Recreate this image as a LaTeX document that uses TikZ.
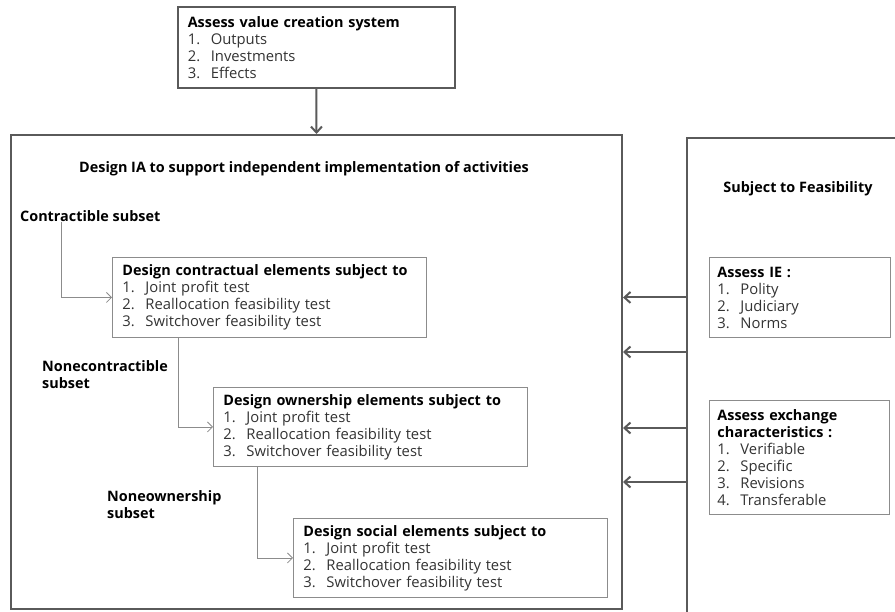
\documentclass[tikz,border=0pt]{standalone}
\usepackage{fontspec}
\setmainfont{Open Sans}
\usetikzlibrary{arrows.meta,calc}
\definecolor{frame}{HTML}{5A5A5A}
\definecolor{boxline}{HTML}{8C8C8C}
\definecolor{itemtxt}{HTML}{333333}
\newcommand\itm[2]{{\color{itemtxt}\fontsize{14.8}{17}\selectfont\makebox[23pt][l]{#1}#2}}
\tikzset{
  txt/.style={font=\fontsize{14.4}{17}\selectfont},
  btxt/.style={font=\fontsize{14.4}{17}\selectfont\bfseries},
  listbox/.style={txt, draw=boxline, line width=0.9pt, anchor=north west,
    align=left, inner xsep=0pt, inner ysep=0pt},
  lbl/.style={btxt, anchor=west, align=left, inner sep=0pt},
  bigframe/.style={draw=frame, line width=2pt, anchor=north west, inner sep=0pt},
  feed/.style={draw=frame, line width=2pt, -{Straight Barb[length=6pt,width=11pt,line width=2pt]}},
  lnk/.style={draw=boxline, line width=0.8pt, -{Straight Barb[length=5pt,width=10pt,line width=0.8pt]}},
}
\begin{document}
\begin{tikzpicture}[x=1pt,y=-1pt]
\useasboundingbox (0,0) rectangle (895,611);
\clip (0,0) rectangle (895,611);
\fill[white] (0,0) rectangle (895,611);

% outer frames
\node[bigframe, minimum width=611pt, minimum height=474pt] (ia) at (10,134) {};
\node[bigframe, minimum width=300pt, minimum height=520pt] (feas) at (686,137) {};

% value creation system
\node[listbox, draw=frame, line width=1.6pt, minimum width=277pt, minimum height=81pt, text width=267pt] (vcs) at (177,6)
  {\hspace*{5pt}\textbf{Assess value creation system}\\\hspace*{5pt}\itm{1.}{Outputs}\\\hspace*{5pt}\itm{2.}{Investments}\\\hspace*{5pt}\itm{3.}{Effects}};

\node[btxt] (iat) at (304,169) {Design IA to support independent implementation of activities};
\node[btxt] (sft) at (798,189) {Subject to Feasibility};

% design steps
\node[lbl] (cs) at (20,216) {Contractible subset};
\node[listbox, minimum width=314pt, minimum height=80pt, text width=304pt] (contr) at (112,257)
  {\hspace*{5pt}\textbf{Design contractual elements subject to}\\\hspace*{5pt}\itm{1.}{Joint profit test}\\\hspace*{5pt}\itm{2.}{Reallocation feasibility test}\\\hspace*{5pt}\itm{3.}{Switchover feasibility test}};

\node[lbl, anchor=north west] (ncs) at (42,360) {Nonecontractible\\subset};
\node[listbox, minimum width=314pt, minimum height=79pt, text width=304pt] (own) at (213,387)
  {\hspace*{5pt}\textbf{Design ownership elements subject to}\\\hspace*{5pt}\itm{1.}{Joint profit test}\\\hspace*{5pt}\itm{2.}{Reallocation feasibility test}\\\hspace*{5pt}\itm{3.}{Switchover feasibility test}};

\node[lbl, anchor=north west] (nos) at (107,490) {Noneownership\\subset};
\node[listbox, minimum width=314pt, minimum height=79pt, text width=304pt] (soc) at (293,518)
  {\hspace*{5pt}\textbf{Design social elements subject to}\\\hspace*{5pt}\itm{1.}{Joint profit test}\\\hspace*{5pt}\itm{2.}{Reallocation feasibility test}\\\hspace*{5pt}\itm{3.}{Switchover feasibility test}};

% feasibility assessments
\node[listbox, minimum width=181pt, minimum height=80pt, text width=171pt] (ie) at (709,257)
  {\hspace*{3pt}\textbf{Assess IE :}\\\hspace*{3pt}\itm{1.}{Polity}\\\hspace*{3pt}\itm{2.}{Judiciary}\\\hspace*{3pt}\itm{3.}{Norms}};
\node[listbox, minimum width=180pt, minimum height=114pt, text width=170pt] (exc) at (709,400)
  {\hspace*{3pt}\textbf{Assess exchange}\\\hspace*{3pt}\textbf{characteristics :}\\\hspace*{3pt}\itm{1.}{Verifiable}\\\hspace*{3pt}\itm{2.}{Specific}\\\hspace*{3pt}\itm{3.}{Revisions}\\\hspace*{3pt}\itm{4.}{Transferable}};

% connectors
\draw[feed] (vcs.south) -- (ia.north);
\draw[lnk] (cs.south -| 61,0) |- (contr.west);
\draw[lnk] (contr.south -| 178,0) |- (own.west);
\draw[lnk] (own.south -| 257,0) |- (soc.west);
\draw[feed] (feas.west |- ie.west) -- (ia.east |- ie.west);
\draw[feed] (feas.west |- 0,352) -- (ia.east |- 0,352);
\draw[feed] (feas.west |- 0,428) -- (ia.east |- 0,428);
\draw[feed] (feas.west |- 0,482) -- (ia.east |- 0,482);
\end{tikzpicture}
\end{document}
